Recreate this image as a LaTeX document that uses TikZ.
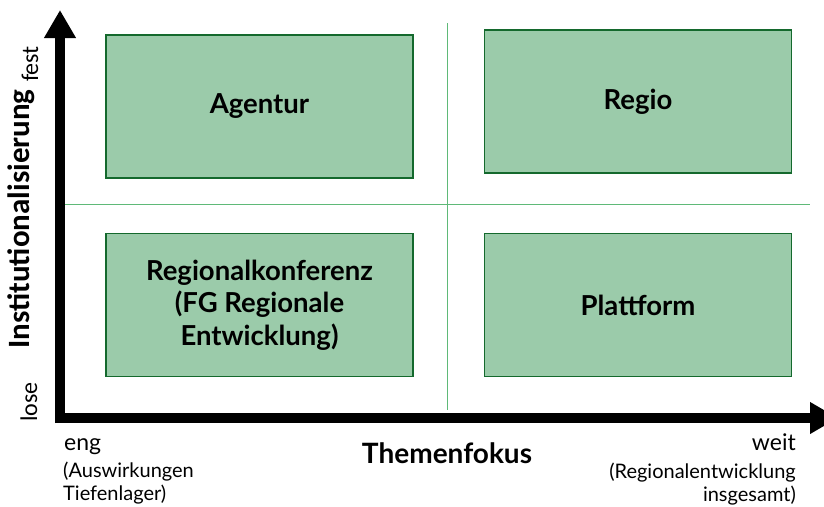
\documentclass[tikz,border=0pt]{standalone}
\usepackage{fontspec}
\setmainfont{Lato}
\newfontfamily\calib{Carlito}
\usetikzlibrary{arrows.meta}
\definecolor{boxfill}{RGB}{155,203,170}
\definecolor{boxdraw}{RGB}{20,105,45}
\definecolor{divline}{RGB}{95,185,120}
\tikzset{
  quad/.style={draw=boxdraw, line width=1.6pt, fill=boxfill, minimum width=307pt, minimum height=143pt, inner sep=0pt, align=center, font=\bfseries\fontsize{27.5}{32.5}\selectfont},
  axis/.style={line width=10pt, -{Triangle[width=30pt,length=28pt]}},
  small/.style={font=\fontsize{20}{23}\selectfont, inner sep=0pt},
  big/.style={font=\fontsize{23}{26}\selectfont, inner sep=0pt},
  rot/.style={rotate=90, font=\calib\fontsize{24}{28}\selectfont, inner sep=0pt},
}
\begin{document}
\begin{tikzpicture}[x=1pt,y=-1pt]
\clip (0,0) rectangle (824,506);
\useasboundingbox (0,0) rectangle (824,506);
% dividers
\coordinate (vt) at (447,23);
\coordinate (vb) at (447,410);
\coordinate (hl) at (65,204);
\coordinate (hr) at (810,204);
\draw[divline, line width=1pt] (vt) -- (vb);
\draw[divline, line width=1pt] (hl) -- (hr);
% boxes
\node[quad] (agentur) at (259.5,106.5) {Agentur};
\node[quad] (regio) at (638,101.5) {Regio};
\node[quad] (regional) at (259.5,305) {Regionalkonferenz\\(FG Regionale\\Entwicklung)};
\node[quad] (plattform) at (638,305) {Plattform};
% axes
\coordinate (o1) at (60,423);
\coordinate (ytip) at (60,10);
\coordinate (o2) at (55,418);
\coordinate (xtip) at (838,418);
\draw[axis] (o1) -- (ytip);
\draw[axis] (o2) -- (xtip);
% axis labels
\node[rotate=90, font=\calib\bfseries\fontsize{31}{34}\selectfont, inner sep=0pt] (ylab) at (21,219) {Institutionalisierung};
\node[rot] (fest) at (30,64) {fest};
\node[rot] (lose) at (29,402) {lose};
\node[font=\bfseries\fontsize{28}{32}\selectfont, inner sep=0pt] (xlab) at (447,453) {Themenfokus};
\node[big, anchor=base west] (eng) at (64,450) {eng};
\node[small, anchor=base west] (engd1) at (63,477) {(Auswirkungen};
\node[small, anchor=base west] (engd2) at (63,500) {Tiefenlager)};
\node[big, anchor=base east] (weit) at (796,450) {weit};
\node[small, anchor=base east] (weitd1) at (796,478) {(Regionalentwicklung};
\node[small, anchor=base east] (weitd2) at (796,501) {insgesamt)};
\end{tikzpicture}
\end{document}
